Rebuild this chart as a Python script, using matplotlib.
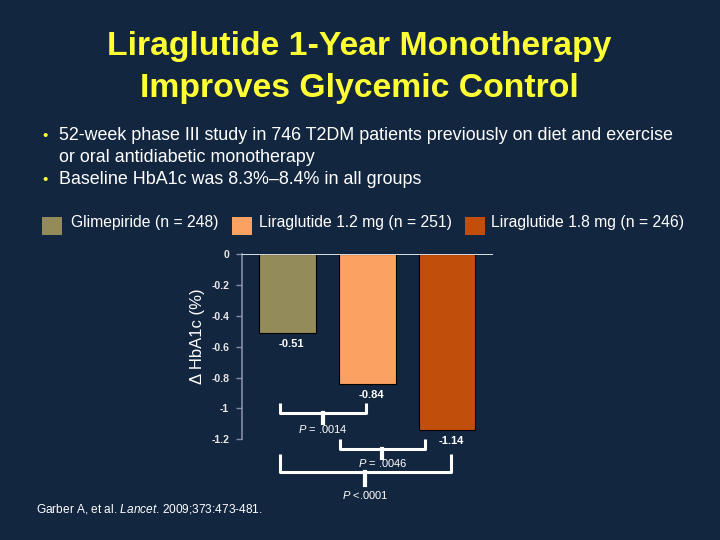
import matplotlib
matplotlib.use('Agg')
import matplotlib.pyplot as plt
import numpy as np

plt.rcParams['font.family'] = ['Liberation Sans', 'DejaVu Sans']
plt.rcParams['mathtext.fontset'] = 'custom'
plt.rcParams['mathtext.rm'] = 'Liberation Sans'
plt.rcParams['mathtext.it'] = 'Liberation Sans:italic'

# datos
grupos = ['Glimepiride (n = 248)', 'Liraglutide 1.2 mg (n = 251)', 'Liraglutide 1.8 mg (n = 246)']
cambio = [-0.51, -0.84, -1.14]
colores = ['#948B5B', '#FBA263', '#C24E0B']
yticks = [0, -0.2, -0.4, -0.6, -0.8, -1, -1.2]
ytick_txt = ['0', '-0.2', '-0.4', '-0.6', '-0.8', '-1', '-1.2']
# comparaciones: (grupo a, grupo b, texto p)
comparaciones = [(0, 1, '$P$ = .0014'), (1, 2, '$P$ = .0046'), (0, 2, '$P$ <.0001')]

fondo = '#13263F'
fig = plt.figure(figsize=(7.2, 5.4), dpi=100, facecolor=fondo)

def px(x, y):
    return x / 720, 1 - y / 540

# titulo
fig.text(*px(359, 47), 'Liraglutide 1-Year Monotherapy', color='#FFFF33', fontsize=24.3,
         fontweight='bold', ha='center', va='center')
fig.text(*px(359, 89), 'Improves Glycemic Control', color='#FFFF33', fontsize=24.3,
         fontweight='bold', ha='center', va='center')

# viñetas
for yb in [136, 180]:
    fig.text(*px(45, yb), '\u2022', color='#FFFF33', fontsize=11, ha='center', va='center')
fig.text(*px(59, 136), '52-week phase III study in 746 T2DM patients previously on diet and exercise',
         color='white', fontsize=12.9, ha='left', va='center')
fig.text(*px(59, 157), 'or oral antidiabetic monotherapy', color='white', fontsize=12.9,
         ha='left', va='center')
fig.text(*px(59, 180), 'Baseline HbA1c was 8.3%\u20138.4% in all groups', color='white',
         fontsize=12.9, ha='left', va='center')

# leyenda
leg_x = [(42, 71), (232, 259), (465, 491)]
for (cx, tx), g, c in zip(leg_x, grupos, colores):
    fig.patches.append(plt.Rectangle(px(cx, 235), 20 / 720, 18 / 540, transform=fig.transFigure,
                                     facecolor=c, edgecolor='none'))
    fig.text(*px(tx, 222), g, color='white', fontsize=11.3, ha='left', va='center')

# grafico
ax = fig.add_axes([241.7 / 720, 1 - 439.3 / 540, (493 - 241.7) / 720, (439.3 - 254.3) / 540])
ax.set_facecolor(fondo)
x = np.arange(len(cambio))
ax.bar(x, cambio, width=0.71, color=colores, edgecolor='black', linewidth=0.8, zorder=2)
for xi, v in zip(x, cambio):
    ax.text(xi + 0.05, v - 0.07, f'{v:.2f}', color='white', fontsize=8, fontweight='bold',
            ha='center', va='center')
ax.axhline(0, color='white', linewidth=1.2, zorder=3)
ax.set_xlim(-0.575, 2.575)
ax.set_ylim(-1.2, 0)
ax.set_yticks(yticks)
ax.set_yticklabels(ytick_txt, fontweight='bold', fontsize=7.5, color='#E8E8E8')
ax.set_xticks([])
for s in ['top', 'right', 'bottom']:
    ax.spines[s].set_visible(False)
ax.spines['left'].set_color('#7F8FA6')
ax.spines['left'].set_linewidth(1.2)
ax.tick_params(axis='y', colors='#7F8FA6', length=4, width=1, labelcolor='#E8E8E8', pad=5)
ax.set_ylabel('\u0394 HbA1c (%)', color='white', fontsize=12)
ax.yaxis.set_label_coords(-0.145, 0.555)

# corchetes de significancia
niveles = [(-0.966, -1.031, -1.092, -1.135), (-1.200, -1.265, -1.323, -1.355),
           (-1.297, -1.41, -1.497, -1.561)]
extremos = [(-0.1, 0.98), (0.654, 1.72), (-0.1, 2.05)]
for (a, b, txt), (y0, y1, y2, yt), (xa, xb) in zip(comparaciones, niveles, extremos):
    xm = (xa + xb) / 2
    ax.plot([xa, xa, xb, xb], [y0, y1, y1, y0], color='white', lw=2.2, clip_on=False,
            solid_joinstyle='round', solid_capstyle='butt')
    ax.plot([xm, xm], [y1, y2], color='white', lw=3, clip_on=False)
    ax.text(xm, yt, txt, color='white', fontsize=8, ha='center', va='center', clip_on=False)

# referencia
fig.text(*px(36, 509), 'Garber A, et al. $Lancet$. 2009;373:473-481.', color='white',
         fontsize=8.6, ha='left', va='center')

fig.savefig('out.png', dpi=100, facecolor=fondo)
